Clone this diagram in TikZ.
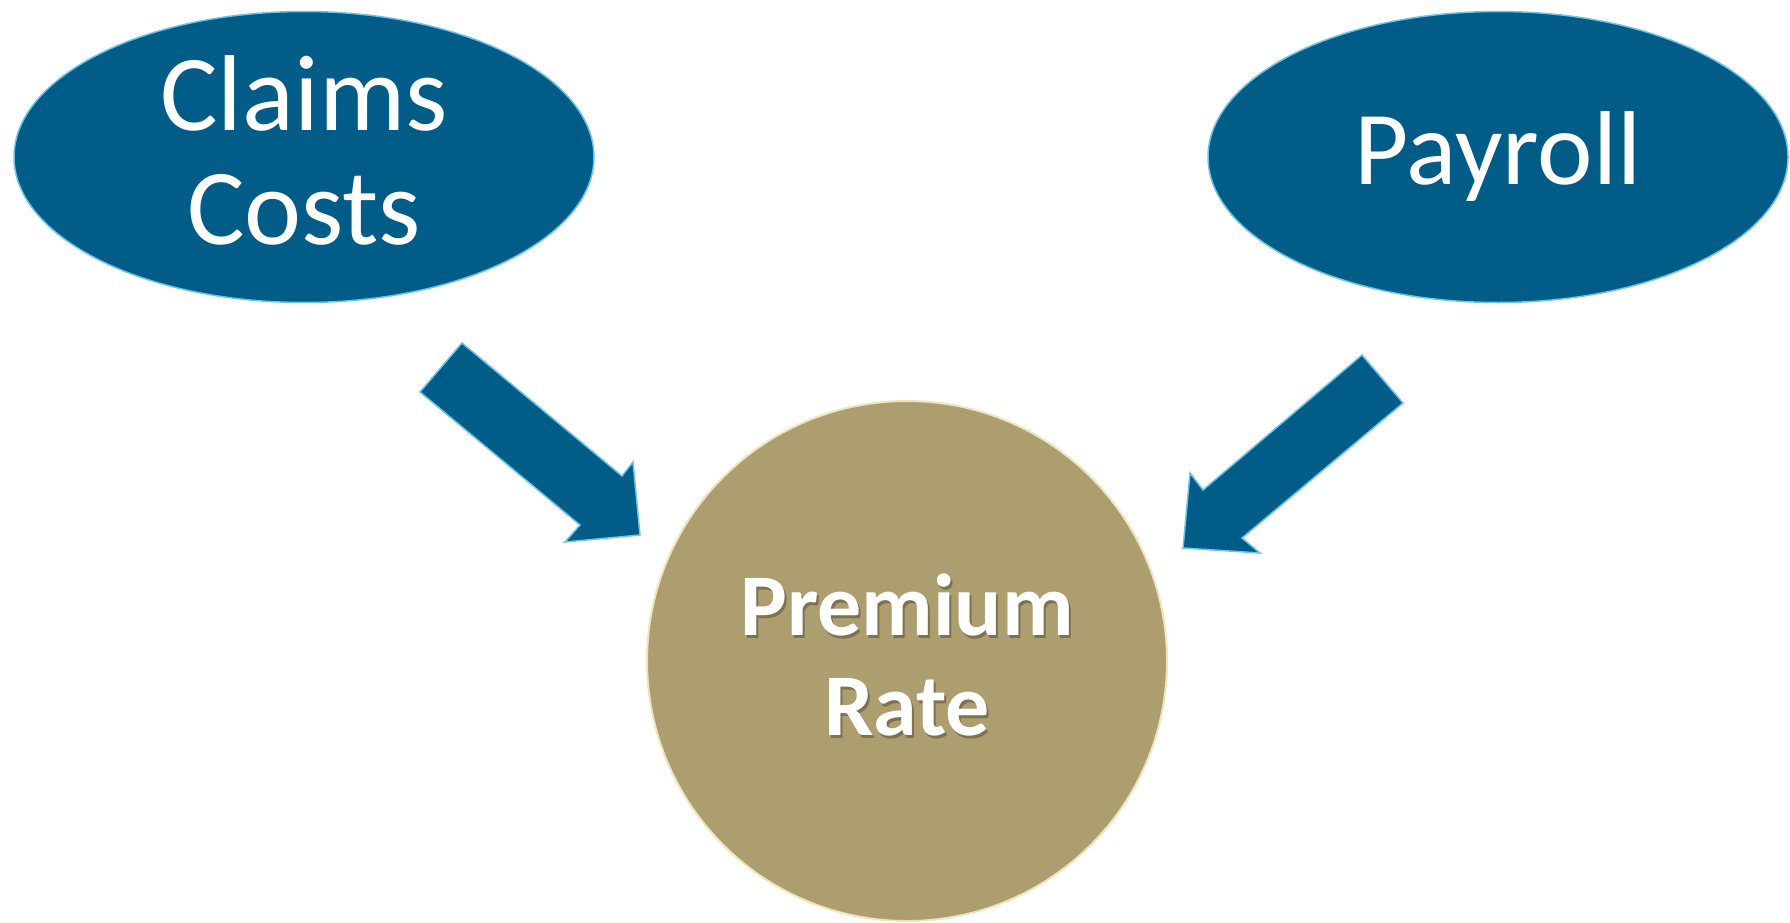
\documentclass[tikz,border=0pt]{standalone}
\usepackage{fontspec}
\setmainfont{Carlito}
\usetikzlibrary{shapes.geometric}
\definecolor{inputblue}{RGB}{1,93,135}
\definecolor{bevelblue}{RGB}{110,195,230}
\definecolor{ratetan}{RGB}{173,158,112}
\definecolor{rimcream}{RGB}{238,228,190}

\begin{document}
\begin{tikzpicture}[x=1pt, y=-1pt,
    input/.style={ellipse, fill=inputblue, draw=bevelblue, line width=1.5pt,
      minimum width=580pt, minimum height=291pt, inner sep=0pt, text=white, align=center},
    result/.style={circle, fill=ratetan, draw=rimcream, line width=2pt,
      minimum size=520pt, inner sep=0pt},
    ratetext/.style={align=center, font=\bfseries\fontsize{88}{100}\selectfont},
    blockarrow/.style={fill=inputblue, draw=bevelblue, line width=1.5pt, line join=miter}
  ]
  \useasboundingbox (0,0) rectangle (1790,923);

  \node[input, font=\fontsize{108}{114}\selectfont] (claims) at (304,157) {Claims\\Costs\rule[-14pt]{0pt}{0pt}};
  \node[input, font=\fontsize{105}{120}\selectfont] (payroll) at (1498,157) {Payroll};

  \node[result] (rate) at (907,661) {};
  \node[ratetext, text=black, opacity=0.28] (rateshade) at ([shift={(2,3)}]rate.center) {Premium\\Rate\rule[-12pt]{0pt}{0pt}};
  \node[ratetext, text=white] (ratelabel) at (rate.center) {Premium\\Rate\rule[-12pt]{0pt}{0pt}};

  % block arrows
  \draw[blockarrow] (462,343) -- (622,476) -- (633,462) -- (640,535)
    -- (565,542) -- (580,525) -- (420,392) -- cycle;
  \draw[blockarrow] (1362,355) -- (1203,490) -- (1190,473) -- (1183,548)
    -- (1260,553) -- (1242,538) -- (1403,403) -- cycle;
\end{tikzpicture}
\end{document}
